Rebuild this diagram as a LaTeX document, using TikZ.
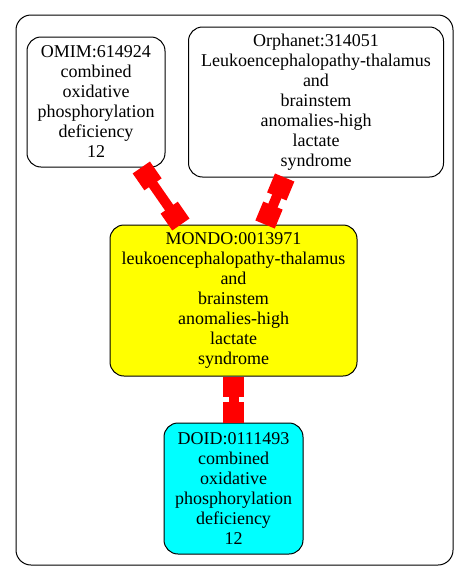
\documentclass[tikz,border=0pt]{standalone}
\usepackage{fontspec}
\newfontfamily\termfont{Liberation Serif}
\usepackage{xcolor}
\usetikzlibrary{arrows.meta}

\definecolor{mondoyellow}{RGB}{255,255,0}
\definecolor{doidcyan}{RGB}{0,255,255}
\definecolor{teered}{RGB}{255,0,0}

\tikzset{
  term/.style={draw=black, line width=1pt, rounded corners=14pt, inner sep=0pt,
    align=center, font=\termfont\fontsize{18}{20}\selectfont},
  tee/.style={draw=teered, line width=10pt,
    {Rectangle[length=20.5pt, width=21pt]}-{Rectangle[length=20.5pt, width=21pt]}}
}

\begin{document}
\begin{tikzpicture}[x=1pt, y=-1pt]
		\useasboundingbox (0,0) rectangle (469,581);

		% Frame
		\draw[line width=1pt, rounded corners=15pt] (16,15) rectangle (453,565);

		% Terms
		\node[term, minimum width=138pt, minimum height=130pt] (omim) at (96,102)
			{OMIM:614924\\combined\\oxidative\\phosphorylation\\deficiency\\12};
		\node[term, minimum width=255pt, minimum height=150pt] (orphanet) at (316,102)
			{Orphanet:314051\\Leukoencephalopathy-thalamus\\and\\brainstem\\anomalies-high\\lactate\\syndrome};
		\node[term, fill=mondoyellow, minimum width=247pt, minimum height=151pt] (mondo) at (233.5,300.5)
			{MONDO:0013971\\leukoencephalopathy-thalamus\\and\\brainstem\\anomalies-high\\lactate\\syndrome};
		\node[term, fill=doidcyan, minimum width=139pt, minimum height=131pt] (doid) at (233.5,488.5)
			{DOID:0111493\\combined\\oxidative\\phosphorylation\\deficiency\\12};

		% Links
		\draw[tee] (omim) -- (mondo);
		\draw[tee] (orphanet) -- (mondo);
		\draw[tee] (mondo) -- (doid);
	\end{tikzpicture}
\end{document}
